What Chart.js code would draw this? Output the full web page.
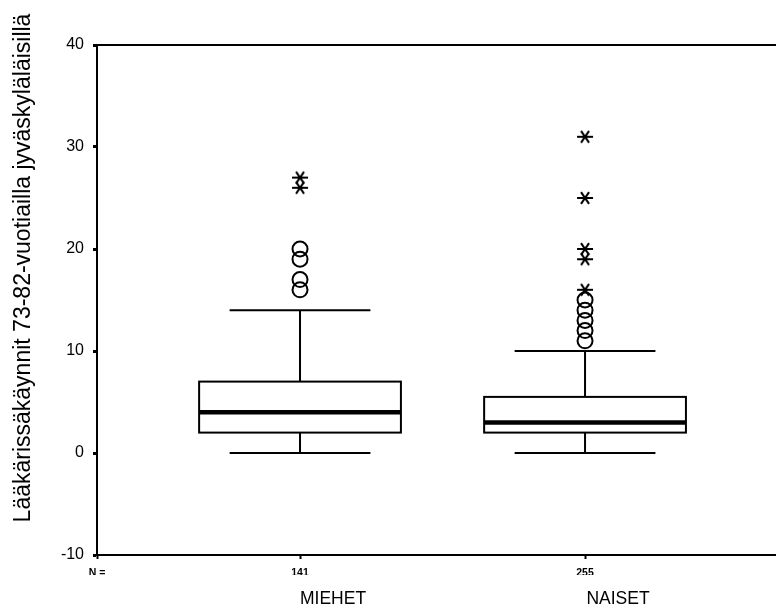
<!DOCTYPE html>
<html>
<head>
<meta charset="utf-8">
<script src="https://cdn.jsdelivr.net/npm/chart.js@4/dist/chart.umd.min.js"></script>
<style>
  html, body { margin: 0; padding: 0; background: #fff; }
  #wrap { width: 776px; height: 610px; }
</style>
</head>
<body>
<div id="wrap"><canvas id="c" width="776" height="610"></canvas></div>
<script>
// Groups and their sample sizes
const categories = ['MIEHET', 'NAISET'];
const counts = [141, 255];

// Box-plot summary per group
const whiskerLow = [0, 0];
const q1 = [2, 2];
const medians = [4, 3];
const q3 = [7, 5.5];
const whiskerHigh = [14, 10];

// Outliers (circles) and extreme values (asterisks)
const miehetOutliers = [16, 17, 19, 20];
const miehetExtremes = [26, 27];
const naisetOutliers = [11, 12, 13, 14, 15];
const naisetExtremes = [16, 19, 20, 25, 31];

const yTicks = [-10, 0, 10, 20, 30, 40];
const yTitle = 'Lääkärissäkäynnit 73-82-vuotiailla jyväskyläläisillä';

const outliers = [miehetOutliers, naisetOutliers];
const extremes = [miehetExtremes, naisetExtremes];

const X_MIN = 0.2877, X_MAX = 2.670;
const BOX_HALF = 0.354, CAP_HALF = 0.247;
const FONT = "'Liberation Sans', Arial, sans-serif";

// Asterisk marker
function makeStar() {
  const s = 18, c = document.createElement('canvas');
  c.width = s; c.height = s;
  const g = c.getContext('2d');
  g.strokeStyle = '#000'; g.lineWidth = 2; g.lineCap = 'butt';
  const r = 8;
  [0, 60, 120].forEach(a => {
    const t = a * Math.PI / 180;
    g.beginPath();
    g.moveTo(s / 2 - r * Math.cos(t), s / 2 - r * Math.sin(t) * 0.85);
    g.lineTo(s / 2 + r * Math.cos(t), s / 2 + r * Math.sin(t) * 0.85);
    g.stroke();
  });
  return c;
}
const star = makeStar();

const pointSets = (arrs) => arrs.flatMap((vals, i) => vals.map(v => ({ x: i + 1, y: v })));

// Boxes, whiskers, medians and the top frame line
const boxPlugin = {
  id: 'boxes',
  beforeDatasetsDraw(chart) {
    const { ctx, chartArea } = chart;
    const xs = chart.scales.x, ys = chart.scales.y;
    ctx.save();
    ctx.strokeStyle = '#000';
    ctx.lineCap = 'butt';
    // top frame line
    ctx.lineWidth = 2;
    ctx.beginPath();
    ctx.moveTo(chartArea.left - 1, chartArea.top);
    ctx.lineTo(chart.width, chartArea.top);
    ctx.stroke();

    categories.forEach((_, i) => {
      const cx = xs.getPixelForValue(i + 1);
      const bl = xs.getPixelForValue(i + 1 - BOX_HALF);
      const br = xs.getPixelForValue(i + 1 + BOX_HALF);
      const cl = xs.getPixelForValue(i + 1 - CAP_HALF);
      const cr = xs.getPixelForValue(i + 1 + CAP_HALF);
      const yLo = ys.getPixelForValue(whiskerLow[i]);
      const yQ1 = ys.getPixelForValue(q1[i]);
      const yMd = ys.getPixelForValue(medians[i]);
      const yQ3 = ys.getPixelForValue(q3[i]);
      const yHi = ys.getPixelForValue(whiskerHigh[i]);
      ctx.lineWidth = 2;
      ctx.beginPath();
      ctx.moveTo(cx, yQ3); ctx.lineTo(cx, yHi);
      ctx.moveTo(cl, yHi); ctx.lineTo(cr, yHi);
      ctx.moveTo(cx, yQ1); ctx.lineTo(cx, yLo);
      ctx.moveTo(cl, yLo); ctx.lineTo(cr, yLo);
      ctx.stroke();
      ctx.strokeRect(bl, yQ3, br - bl, yQ1 - yQ3);
      ctx.lineWidth = 4.5;
      ctx.beginPath();
      ctx.moveTo(bl, yMd); ctx.lineTo(br, yMd);
      ctx.stroke();
    });
    ctx.restore();
  }
};

// Vertical axis title, set a little above the axis middle
const yTitlePlugin = {
  id: 'yTitle',
  afterDraw(chart) {
    const ctx = chart.ctx;
    ctx.save();
    ctx.translate(24, 268);
    ctx.rotate(-Math.PI / 2);
    ctx.fillStyle = '#000';
    ctx.font = "23px " + FONT;
    ctx.textAlign = 'center';
    ctx.textBaseline = 'middle';
    ctx.fillText(yTitle, 0, 0);
    ctx.restore();
  }
};

const noSidePadding = (scale) => { scale.paddingLeft = 0; scale.paddingRight = 0; };

new Chart(document.getElementById('c'), {
  type: 'scatter',
  data: {
    datasets: [
      {
        label: 'outliers',
        data: pointSets(outliers),
        pointStyle: 'circle',
        radius: 7.5,
        borderWidth: 2,
        borderColor: '#000',
        backgroundColor: 'rgba(0,0,0,0)'
      },
      {
        label: 'extremes',
        data: pointSets(extremes),
        pointStyle: star,
        radius: 9
      }
    ]
  },
  plugins: [boxPlugin, yTitlePlugin],
  options: {
    responsive: false,
    animation: false,
    events: [],
    layout: { autoPadding: false, padding: { top: 45, right: 0, bottom: 0, left: 0 } },
    plugins: { legend: { display: false }, tooltip: { enabled: false } },
    scales: {
      x: {
        type: 'linear',
        position: 'bottom',
        min: X_MIN,
        max: X_MAX,
        afterBuildTicks(scale) {
          scale.ticks = [{ value: X_MIN }].concat(categories.map((_, i) => ({ value: i + 1 })));
        },
        afterFit(scale) { scale.height = 20; noSidePadding(scale); },
        grid: { drawOnChartArea: false, drawTicks: true, tickLength: 4, tickWidth: 2, color: '#000' },
        border: { display: true, color: '#000', width: 2 },
        ticks: {
          autoSkip: false,
          maxRotation: 0,
          padding: 8,
          color: '#000',
          font: { family: FONT, size: 10.5, weight: 'bold' },
          callback: (v, idx) => idx === 0 ? 'N =' : String(counts[idx - 1])
        }
      },
      x2: {
        type: 'linear',
        position: 'bottom',
        min: X_MIN,
        max: X_MAX,
        afterBuildTicks(scale) {
          scale.ticks = categories.map((_, i) => ({ value: i + 1 }));
        },
        afterFit(scale) { scale.height = 35; noSidePadding(scale); },
        grid: { display: false, drawTicks: false },
        border: { display: false },
        ticks: {
          autoSkip: false,
          maxRotation: 0,
          padding: 14,
          labelOffset: 33,
          color: '#000',
          font: { family: FONT, size: 17.5 },
          callback: (v, idx) => categories[idx]
        }
      },
      y: {
        type: 'linear',
        min: -10,
        max: 40,
        afterBuildTicks(scale) { scale.ticks = yTicks.map(v => ({ value: v })); },
        afterFit(scale) { scale.width = 97; },
        grid: { drawOnChartArea: false, drawTicks: true, tickLength: 4, tickWidth: 3, color: '#000' },
        border: { display: true, color: '#000', width: 2 },
        ticks: { padding: 9, color: '#000', font: { family: FONT, size: 16 } },
        title: { display: false }
      }
    }
  }
});
</script>
</body>
</html>
